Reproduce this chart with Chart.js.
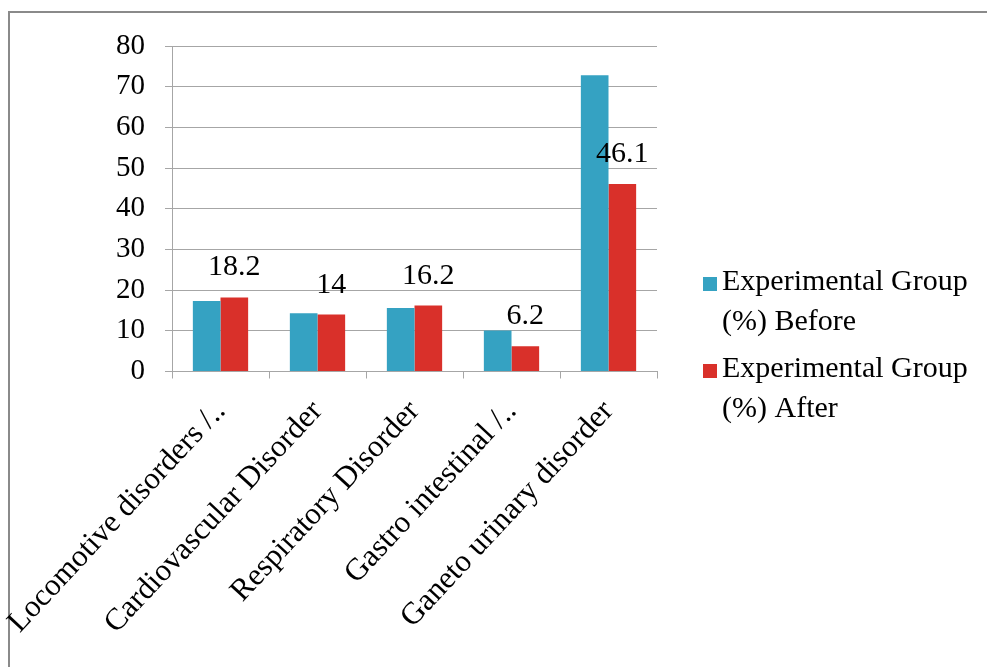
<!DOCTYPE html>
<html>
<head>
<meta charset="utf-8">
<script src="https://cdn.jsdelivr.net/npm/chart.js@4.4.1/dist/chart.umd.min.js"></script>
<style>
  html, body { margin: 0; padding: 0; background: #fff; overflow: hidden; }
  #wrap { position: relative; width: 987px; height: 667px; }
  #frame {
    position: absolute; left: 8px; top: 11px; right: -20px; bottom: -20px;
    border: 2px solid #8a8a8a;
  }
  #chart { position: absolute; left: 0; top: 0; }
</style>
</head>
<body>
<div id="wrap">
  <div id="frame"></div>
  <canvas id="chart" width="987" height="667"></canvas>
</div>
<script>
const categories = [
  'Locomotive disorders /..',
  'Cardiovascular Disorder',
  'Respiratory Disorder',
  'Gastro intestinal /..',
  'Ganeto urinary disorder'
];
const beforeValues = [17.3, 14.3, 15.6, 10.1, 72.8];
const afterValues = [18.2, 14, 16.2, 6.2, 46.1];
const seriesNames = ['Experimental Group (%) Before', 'Experimental Group (%) After'];
const seriesColors = ['#35A2C2', '#D9302A'];
const yTicks = [0, 10, 20, 30, 40, 50, 60, 70, 80];

const serif = "'Liberation Serif', 'Times New Roman', serif";
const gridGray = '#a6a6a6';

// value labels over the "After" bars
const valueLabels = {
  id: 'valueLabels',
  afterDatasetsDraw(chart) {
    const ctx = chart.ctx;
    const meta = chart.getDatasetMeta(1);
    ctx.save();
    ctx.font = '30px ' + serif;
    ctx.fillStyle = '#000';
    ctx.textAlign = 'center';
    ctx.textBaseline = 'alphabetic';
    meta.data.forEach((bar, i) => {
      ctx.fillText(String(chart.data.datasets[1].data[i]), bar.x, bar.y - 22);
    });
    ctx.restore();
  }
};

// legend on the right, text wrapped to two lines
const sideLegend = {
  id: 'sideLegend',
  afterDraw(chart) {
    const ctx = chart.ctx;
    const left = chart.chartArea.right + 46;
    let top = 277;
    ctx.save();
    ctx.font = '30px ' + serif;
    ctx.textBaseline = 'alphabetic';
    chart.data.datasets.forEach(ds => {
      const words = ds.label.split(' ');
      const lines = [];
      let line = '';
      words.forEach(w => {
        const test = line ? line + ' ' + w : w;
        if (ctx.measureText(test).width > 255 && line) {
          lines.push(line);
          line = w;
        } else {
          line = test;
        }
      });
      lines.push(line);
      ctx.fillStyle = ds.backgroundColor;
      ctx.fillRect(left, top, 14, 14);
      ctx.fillStyle = '#000';
      lines.forEach((l, k) => ctx.fillText(l, left + 19, top + 13 + k * 40));
      top += 87;
    });
    ctx.restore();
  }
};

new Chart(document.getElementById('chart'), {
  type: 'bar',
  data: {
    labels: categories,
    datasets: [
      { label: seriesNames[0], data: beforeValues, backgroundColor: seriesColors[0] },
      { label: seriesNames[1], data: afterValues, backgroundColor: seriesColors[1] }
    ]
  },
  options: {
    responsive: false,
    animation: false,
    layout: { padding: { left: 0, top: 46, right: 330, bottom: 0 } },
    datasets: { bar: { categoryPercentage: 0.57, barPercentage: 1.0 } },
    plugins: { legend: { display: false }, tooltip: { enabled: false } },
    scales: {
      x: {
        grid: { drawOnChartArea: false, drawTicks: true, tickLength: 7, color: gridGray },
        border: { color: gridGray },
        ticks: {
          autoSkip: false, minRotation: 47, maxRotation: 47, padding: 15,
          color: '#000', font: { family: serif, size: 31 }
        },
        afterFit(scale) {
          scale.height = 667 - 371.5;
          scale.paddingLeft = 0;
          scale.paddingRight = 0;
        }
      },
      y: {
        min: 0, max: 80,
        afterBuildTicks(scale) { scale.ticks = yTicks.map(v => ({ value: v })); },
        grid: { color: gridGray, tickLength: 7 },
        border: { color: gridGray },
        ticks: { padding: 20, color: '#000', font: { family: serif, size: 29 } },
        afterFit(scale) {
          scale.width = 172;
          scale.paddingTop = 0;
          scale.paddingBottom = 0;
        }
      }
    }
  },
  plugins: [valueLabels, sideLegend]
});
</script>
</body>
</html>
